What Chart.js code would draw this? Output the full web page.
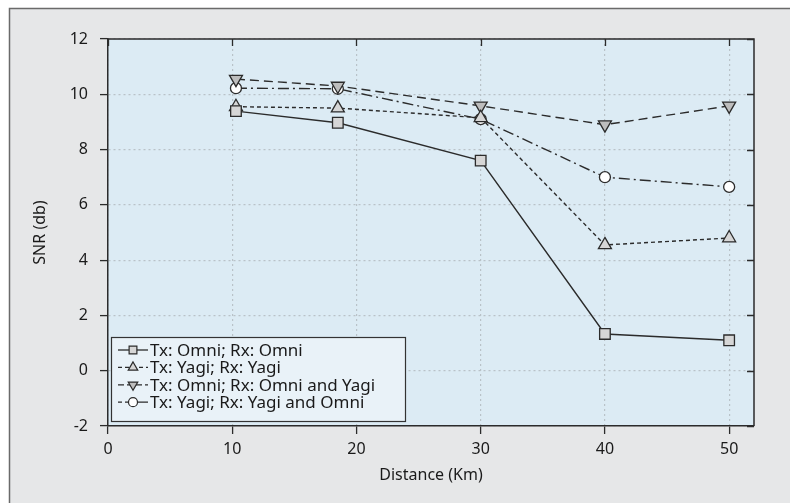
<!DOCTYPE html>
<html>
<head>
<meta charset="utf-8">
<script src="https://cdn.jsdelivr.net/npm/chart.js@4/dist/chart.umd.min.js"></script>
<style>
  html, body { margin: 0; padding: 0; background: #ffffff; }
  #wrap { position: relative; width: 790px; height: 503px; }
  canvas { display: block; }
</style>
</head>
<body>
<div id="wrap"><canvas id="c" width="790" height="503"></canvas></div>
<script>
// ---- data ----
const distances = [10.3, 18.5, 30, 40, 50];
const omniOmni = [9.39, 8.97, 7.6, 1.33, 1.1];
const yagiYagi = [9.55, 9.5, 9.15, 4.55, 4.8];
const omniOmniYagi = [10.55, 10.3, 9.58, 8.9, 9.58];
const yagiYagiOmni = [10.22, 10.2, 9.1, 7.0, 6.65];
const seriesLabels = [
  'Tx: Omni; Rx: Omni',
  'Tx: Yagi; Rx: Yagi',
  'Tx: Omni; Rx: Omni and Yagi',
  'Tx: Yagi; Rx: Yagi and Omni'
];
const xTicks = [0, 10, 20, 30, 40, 50];
const yTicks = [-2, 0, 2, 4, 6, 8, 10, 12];
const xTitle = 'Distance (Km)';
const yTitle = 'SNR (db)';

const FONT = '"Noto Sans", "Open Sans", sans-serif';
const LINE = '#2b2b2b';
const TEXT = '#1a1a1a';

function pts(ys) { return distances.map((x, i) => ({ x: x, y: ys[i] })); }

const styles = [
  { dash: [], pointStyle: 'rect', rotation: 0, radius: 7.5, fill: '#d6d6d6' },
  { dash: [4, 3], pointStyle: 'triangle', rotation: 0, radius: 7.5, fill: '#d6d6d6' },
  { dash: [9, 5], pointStyle: 'triangle', rotation: 180, radius: 7.5, fill: '#bdbdbd' },
  { dash: [11, 4, 2, 4], pointStyle: 'circle', rotation: 0, radius: 5.5, fill: '#ffffff' }
];
const seriesData = [omniOmni, yagiYagi, omniOmniYagi, yagiYagiOmni];

const datasets = seriesData.map((d, i) => ({
  label: seriesLabels[i],
  data: pts(d),
  borderColor: LINE,
  borderWidth: 1.4,
  borderDash: styles[i].dash,
  pointStyle: styles[i].pointStyle,
  rotation: styles[i].rotation,
  pointRadius: styles[i].radius,
  pointBackgroundColor: styles[i].fill,
  pointBorderColor: LINE,
  pointBorderWidth: 1.3,
  tension: 0,
  fill: false
}));

const bgPlugin = {
  id: 'bg',
  beforeDraw(chart) {
    const ctx = chart.ctx;
    ctx.save();
    ctx.fillStyle = '#ffffff';
    ctx.fillRect(0, 0, chart.width, chart.height);
    ctx.fillStyle = '#e6e7e8';
    ctx.fillRect(9, 8, chart.width - 9, chart.height - 8);
    ctx.strokeStyle = '#6a6a6a';
    ctx.lineWidth = 1.5;
    ctx.beginPath();
    ctx.moveTo(9.5, chart.height);
    ctx.lineTo(9.5, 8.5);
    ctx.lineTo(chart.width, 8.5);
    ctx.stroke();
    const a = chart.chartArea;
    ctx.fillStyle = '#dcebf4';
    ctx.fillRect(a.left, a.top, a.right - a.left, a.bottom - a.top);
    ctx.restore();
  }
};

function drawMarker(ctx, st, x, y, r) {
  ctx.save();
  ctx.fillStyle = st.fill;
  ctx.strokeStyle = LINE;
  ctx.lineWidth = 1.2;
  ctx.setLineDash([]);
  ctx.beginPath();
  if (st.pointStyle === 'rect') {
    const s = r * Math.SQRT1_2;
    ctx.rect(x - s, y - s, 2 * s, 2 * s);
  } else if (st.pointStyle === 'triangle') {
    const sgn = st.rotation === 180 ? -1 : 1;
    ctx.moveTo(x, y - sgn * r);
    ctx.lineTo(x - r * 0.866, y + sgn * r * 0.5);
    ctx.lineTo(x + r * 0.866, y + sgn * r * 0.5);
    ctx.closePath();
  } else {
    ctx.arc(x, y, r, 0, Math.PI * 2);
  }
  ctx.fill();
  ctx.stroke();
  ctx.restore();
}

const framePlugin = {
  id: 'frame',
  afterDraw(chart) {
    const ctx = chart.ctx;
    const a = chart.chartArea;
    const xs = chart.scales.x, ys = chart.scales.y;
    ctx.save();
    ctx.strokeStyle = LINE;
    ctx.lineWidth = 1.5;
    ctx.beginPath();
    ctx.moveTo(a.left, a.top);
    ctx.lineTo(a.right, a.top);
    ctx.lineTo(a.right, a.bottom);
    ctx.stroke();
    ctx.lineWidth = 1.3;
    ctx.beginPath();
    xTicks.forEach(v => {
      const px = Math.round(xs.getPixelForValue(v)) + 0.5;
      ctx.moveTo(px, a.top);
      ctx.lineTo(px, a.top + 7);
    });
    yTicks.forEach(v => {
      const py = Math.round(ys.getPixelForValue(v)) + 0.5;
      ctx.moveTo(a.right, py);
      ctx.lineTo(a.right - 7, py);
    });
    ctx.stroke();

    // axis titles
    ctx.fillStyle = TEXT;
    ctx.font = '16px ' + FONT;
    ctx.textAlign = 'center';
    ctx.textBaseline = 'middle';
    ctx.fillText(xTitle, (a.left + a.right) / 2, 475);
    ctx.save();
    ctx.translate(40, (a.top + a.bottom) / 2);
    ctx.rotate(-Math.PI / 2);
    ctx.fillText(yTitle, 0, 0);
    ctx.restore();

    // legend
    const lx = 111, ly = 337, lw = 294, lh = 84;
    ctx.fillStyle = '#e9f2f8';
    ctx.fillRect(lx, ly, lw, lh);
    ctx.strokeStyle = '#333333';
    ctx.lineWidth = 1.2;
    ctx.strokeRect(lx + 0.5, ly + 0.5, lw, lh);
    ctx.font = '17px ' + FONT;
    ctx.fillStyle = TEXT;
    ctx.textBaseline = 'middle';
    ctx.textAlign = 'left';
    seriesLabels.forEach((lab, i) => {
      const y = ly + 13 + i * 17.4;
      const st = styles[i];
      ctx.save();
      ctx.strokeStyle = LINE;
      ctx.lineWidth = 1.3;
      ctx.setLineDash(i === 0 ? [] : (i === 1 ? [4, 3] : (i === 2 ? [6, 3] : [4, 3, 20, 0])));
      ctx.beginPath();
      ctx.moveTo(118, y);
      ctx.lineTo(148, y);
      ctx.stroke();
      ctx.restore();
      drawMarker(ctx, st, 133, y, st.pointStyle === 'circle' ? 4.5 : 5.5);
      ctx.fillText(lab, 150, y + 1);
    });
    ctx.restore();
  }
};

new Chart(document.getElementById('c'), {
  type: 'line',
  data: { datasets: datasets },
  options: {
    responsive: false,
    animation: false,
    devicePixelRatio: 1,
    layout: { padding: { top: 39, right: 36, left: 0, bottom: 0 } },
    plugins: { legend: { display: false }, tooltip: { enabled: false } },
    scales: {
      x: {
        type: 'linear',
        min: 0,
        max: 52,
        afterBuildTicks(s) { s.ticks = xTicks.map(v => ({ value: v })); },
        afterFit(s) { s.height = 77; },
        grid: {
          color: '#b9c2c8',
          lineWidth: 1.2,
          tickColor: LINE,
          tickLength: 8,
          tickWidth: 1.3
        },
        border: { color: LINE, width: 1.5, dash: [2, 3] },
        ticks: { color: TEXT, font: { family: FONT, size: 16 }, padding: 6, maxRotation: 0 },
        title: { display: false }
      },
      y: {
        type: 'linear',
        min: -2,
        max: 12,
        afterBuildTicks(s) { s.ticks = yTicks.map(v => ({ value: v })); },
        afterFit(s) { s.width = 108; },
        grid: {
          color: '#b9c2c8',
          lineWidth: 1.2,
          tickColor: LINE,
          tickLength: 8,
          tickWidth: 1.3
        },
        border: { color: LINE, width: 1.5, dash: [2, 3] },
        ticks: { color: TEXT, font: { family: FONT, size: 16 }, padding: 12 },
        title: { display: false }
      }
    }
  },
  plugins: [bgPlugin, framePlugin]
});
</script>
</body>
</html>
